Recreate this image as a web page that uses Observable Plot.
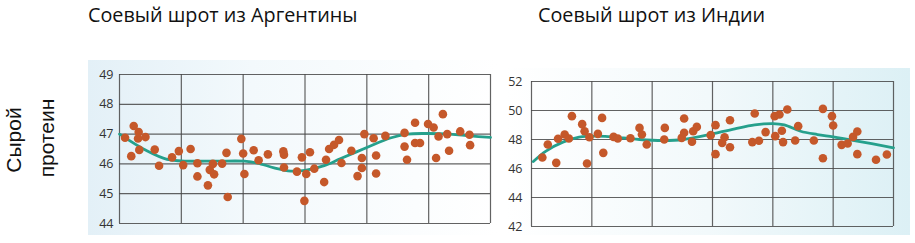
<!DOCTYPE html>
<html>
<head>
<meta charset="utf-8">
<script src="https://cdn.jsdelivr.net/npm/d3@7"></script>
<script src="https://cdn.jsdelivr.net/npm/@observablehq/plot@0.6"></script>
<style>
  html, body { margin: 0; padding: 0; background: #ffffff; }
  #root { position: relative; width: 915px; height: 243px; overflow: hidden; font-family: "Open Sans", sans-serif; }
  .title { position: absolute; font-family: "Open Sans", sans-serif; font-size: 19.8px; color: #111; white-space: nowrap; line-height: 1; }
  .ylab { position: absolute; font-family: "Liberation Sans", Arial, sans-serif; font-size: 21px; color: #111; white-space: nowrap; line-height: 1; transform: translate(-50%, -50%) rotate(-90deg); }
  .panel { position: absolute; }
  #left { left: 88px; top: 60px; background: linear-gradient(to right, #e3f0f7 0%, #f3f9fc 40%, #ffffff 100%); }
  #right { left: 505px; top: 68px; background: linear-gradient(to right, #ffffff 0%, #f2f9fb 50%, #dcf0f5 100%); }
</style>
</head>
<body>
<div id="root">
  <div class="title" id="t1" style="left:88px; top:5px;">Соевый шрот из Аргентины</div>
  <div class="title" id="t2" style="left:538px; top:5px;">Соевый шрот из Индии</div>
  <div class="ylab" style="left:13px; top:140px;">Сырой</div>
  <div class="ylab" style="left:46px; top:138px;">протеин</div>
  <div class="panel" id="left"></div>
  <div class="panel" id="right"></div>
</div>
<script>
// Column gridlines (no labels on x)
const xTicks = [0, 1, 2, 3, 4, 5, 6];

// Argentina panel
const argTicks = [44, 45, 46, 47, 48, 49];
const argX = [0.09,0.19,0.23,0.31,0.30,0.32,0.42,0.57,0.64,0.85,0.96,1.03,1.15,1.26,1.26,1.43,1.46,1.51,1.53,1.66,1.73,1.75,1.97,2.00,2.02,2.17,2.25,2.40,2.65,2.66,2.66,
  2.87,2.95,3.02,2.99,3.08,3.15,3.31,3.34,3.39,3.47,3.55,3.59,3.75,3.85,3.92,3.92,3.96,4.11,4.15,4.15,4.30,4.61,4.61,4.65,4.78,4.78,4.86,4.99,5.08,5.12,5.16,5.23,5.30,5.33,5.51,5.66,5.67];
const argY = [46.88,46.26,47.27,47.07,46.85,46.47,46.90,46.48,45.94,46.22,46.43,45.96,46.50,46.02,45.58,45.28,45.80,46.00,45.65,46.01,46.37,44.89,46.84,46.35,45.66,46.46,46.12,46.32,46.42,46.31,45.88,
  45.74,46.22,45.66,44.76,46.39,45.84,45.39,46.14,46.50,46.64,46.80,46.03,46.44,45.59,45.86,46.20,47.00,46.86,46.28,45.68,46.94,47.04,46.58,46.14,47.38,46.70,46.70,47.34,47.22,46.20,46.92,47.67,47.00,46.44,47.09,46.98,46.63];
const argTrendX = [0,0.45,0.77,1,1.53,2.02,2.23,2.5,2.77,3,3.31,3.57,4,4.38,4.65,5,5.35,5.67,6];
const argTrendY = [47.0,46.43,46.15,46.1,46.09,46.09,46.03,45.87,45.76,45.78,45.94,46.17,46.55,46.87,47.0,47.02,47.0,46.94,46.89];

// India panel
const indTicks = [42, 44, 46, 48, 50, 52];
const indX = [0.18,0.27,0.41,0.44,0.55,0.62,0.67,0.84,0.88,0.92,0.96,1.10,1.17,1.19,1.36,1.43,1.64,1.79,1.83,1.91,2.21,2.20,2.49,2.53,2.53,2.66,2.68,2.74,
  2.97,3.05,3.05,3.16,3.20,3.29,3.29,3.66,3.70,3.77,3.88,4.03,4.04,4.11,4.15,4.17,4.24,4.37,4.42,4.68,4.83,4.83,4.98,5.00,5.14,5.24,5.33,5.40,5.40,5.71,5.89];
const indY = [46.76,47.66,46.39,48.05,48.34,48.07,49.61,49.06,48.57,46.34,48.16,48.39,49.49,47.08,48.18,48.07,48.09,48.80,48.34,47.66,48.80,48.00,48.11,49.45,48.46,47.84,48.57,48.87,
  48.30,48.99,46.99,47.77,48.16,49.33,47.47,47.82,49.79,47.91,48.51,49.61,48.23,49.72,48.60,47.82,50.07,47.93,48.92,47.93,46.71,50.11,49.61,48.97,47.63,47.72,48.18,48.55,46.99,46.60,46.97];
const indTrendX = [0.03,0.24,0.52,0.79,1.07,1.52,1.79,2.18,2.52,2.91,3.37,3.7,4.0,4.19,4.46,4.74,5.0,5.35,6];
const indTrendY = [46.48,47.2,47.82,48.16,48.23,48.11,48.0,47.93,48.0,48.3,48.74,49.01,49.1,49.01,48.57,48.34,48.18,47.93,47.43];

const dotColor = "#c5582a";
const lineColor = "#25a08c";
const gridColor = "#474747";

function zip(xs, ys) { return xs.map((x, i) => ({x, y: ys[i]})); }

function panel({width, height, ml, mr, mt, mb, ydom, yticks, pts, trend, pad}) {
  return Plot.plot({
    width, height,
    marginLeft: ml, marginRight: mr, marginTop: mt, marginBottom: mb,
    style: {background: "transparent", fontFamily: "Open Sans, sans-serif", fontSize: "12.5px", color: "#333", overflow: "visible"},
    x: {domain: [0, 6], axis: null},
    y: {domain: ydom, axis: null},
    marks: [
      Plot.gridX(xTicks, {stroke: gridColor, strokeOpacity: 0.85, strokeWidth: 1.2}),
      Plot.gridY(yticks, {stroke: gridColor, strokeOpacity: 0.85, strokeWidth: 1.2}),
      Plot.axisY(yticks, {tickSize: 0, tickPadding: pad, label: null, fill: "#333"}),
      Plot.line(trend, {x: "x", y: "y", stroke: lineColor, strokeWidth: 2.8, curve: "catmull-rom"}),
      Plot.dot(pts, {x: "x", y: "y", r: 4.3, fill: dotColor, stroke: "none"})
    ]
  });
}

document.getElementById("left").append(panel({
  width: 410, height: 175, ml: 31, mr: 8, mt: 14, mb: 12,
  ydom: [44, 49], yticks: argTicks,
  pts: zip(argX, argY), trend: zip(argTrendX, argTrendY), pad: 6
}));

document.getElementById("right").append(panel({
  width: 405, height: 167, ml: 26, mr: 17, mt: 13, mb: 9,
  ydom: [42, 52], yticks: indTicks,
  pts: zip(indX, indY), trend: zip(indTrendX, indTrendY), pad: 9
}));
</script>
</body>
</html>
